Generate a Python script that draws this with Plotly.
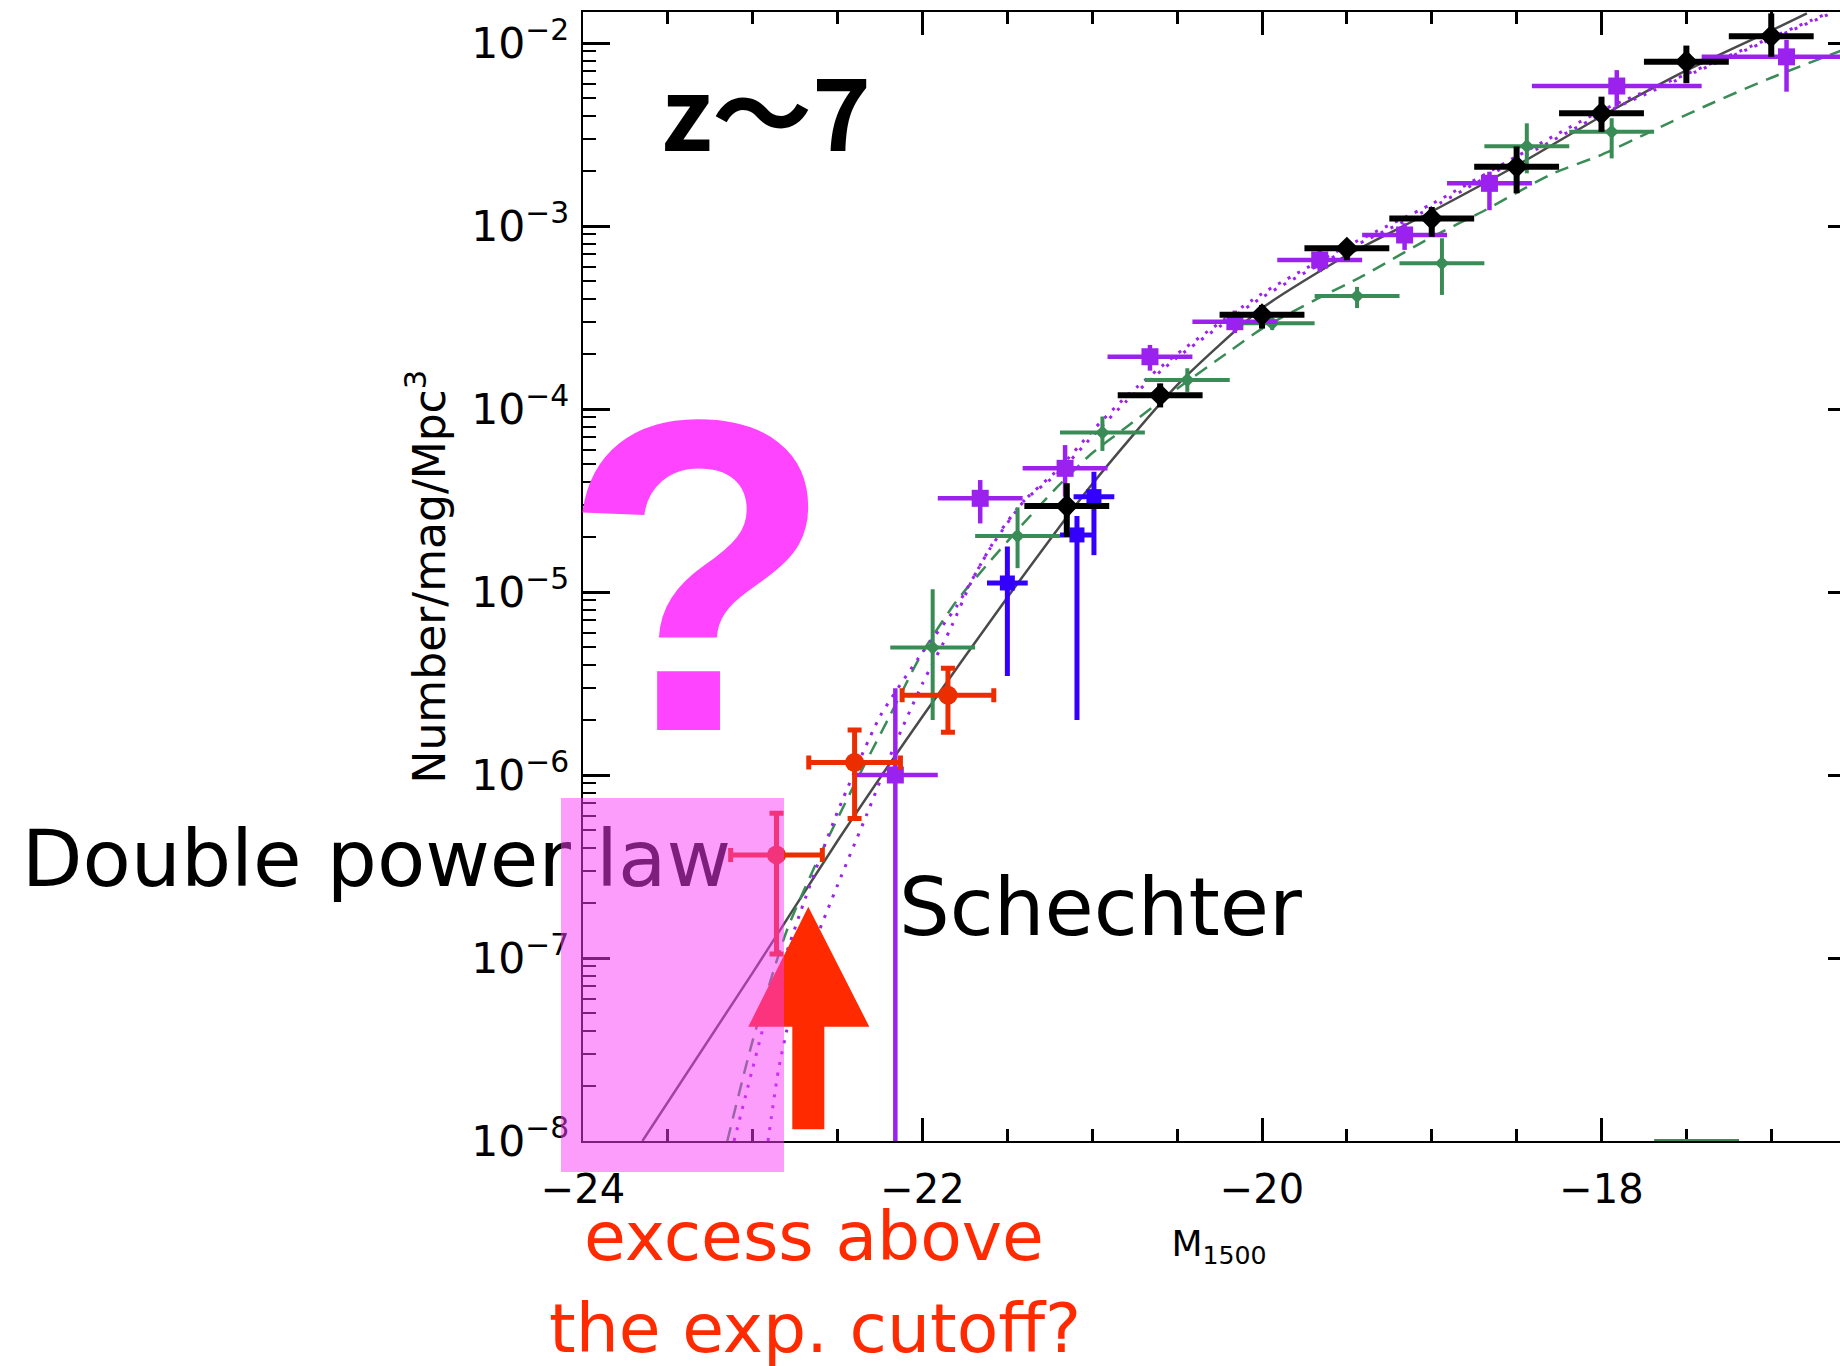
import plotly.graph_objects as go

# ---------------- data ----------------
# black diamonds
blk_M = [-21.15, -20.60, -20.00, -19.50, -19.00, -18.50, -18.00, -17.50, -17.00]
blk_phi = [2.95e-5, 1.19e-4, 3.27e-4, 7.55e-4, 1.10e-3, 2.11e-3, 4.13e-3, 7.91e-3, 1.09e-2]
blk_hi = [3.93e-5, 1.38e-4, 3.70e-4, 8.40e-4, 1.27e-3, 2.72e-3, 5.09e-3, 9.68e-3, 1.45e-2]
blk_lo = [2.00e-5, 1.02e-4, 2.75e-4, 6.50e-4, 8.73e-4, 1.51e-3, 3.27e-3, 6.03e-3, 8.41e-3]
blk_dM = [0.25] * 9

# purple squares
pur_M = [-22.16, -21.66, -21.16, -20.66, -20.16, -19.66, -19.16, -18.66, -17.91, -16.91]
pur_phi = [1.0e-6, 3.25e-5, 4.74e-5, 1.93e-4, 3.0e-4, 6.52e-4, 8.93e-4, 1.71e-3, 5.82e-3, 8.4e-3]
pur_hi = [2.98e-6, 4.09e-5, 6.35e-5, 2.24e-4, 3.45e-4, 7.4e-4, 1.035e-3, 1.98e-3, 7.11e-3, 1.04e-2]
pur_lo = [1e-10, 2.37e-5, 3.32e-5, 1.62e-4, 2.6e-4, 5.6e-4, 7.4e-4, 1.22e-3, 4.49e-3, 5.42e-3]
pur_dM = [0.25, 0.25, 0.25, 0.25, 0.25, 0.25, 0.25, 0.25, 0.5, 0.5]

# green small diamonds
grn_M = [-21.94, -21.44, -20.94, -20.44, -19.94, -19.44, -18.94, -18.44, -17.94]
grn_phi = [4.97e-6, 2.02e-5, 7.43e-5, 1.44e-4, 2.94e-4, 4.14e-4, 6.25e-4, 2.73e-3, 3.27e-3]
grn_hi = [1.035e-5, 2.9e-5, 9.1e-5, 1.67e-4, 3.1e-4, 4.65e-4, 8.57e-4, 3.64e-3, 3.88e-3]
grn_lo = [2.0e-6, 1.35e-5, 5.9e-5, 1.24e-4, 2.7e-4, 3.56e-4, 4.2e-4, 1.94e-3, 2.34e-3]
grn_dM = [0.25] * 9
# green bin sitting on the lower axis
grn_floor_M = [-17.44]
grn_floor_phi = [1.0e-8]
grn_floor_dM = [0.25]

# blue squares
blu_M = [-21.50, -21.09, -20.99]
blu_phi = [1.12e-5, 2.05e-5, 3.32e-5]
blu_hi = [1.77e-5, 2.6e-5, 4.54e-5]
blu_lo = [3.48e-6, 2.0e-6, 1.59e-5]
blu_dM = [0.12, 0.10, 0.12]

# red circles
red_M = [-22.86, -22.40, -21.85]
red_phi = [3.66e-7, 1.17e-6, 2.73e-6]
red_hi = [6.18e-7, 1.76e-6, 3.83e-6]
red_lo = [1.05e-7, 5.79e-7, 1.71e-6]
red_dM = [0.27, 0.27, 0.27]

# solid dark curve (double power law)
dpl_M = [-23.65, -23.0, -22.5, -22.0, -21.5, -21.0, -20.5, -20.0, -19.5, -19.0,
         -18.5, -18.0, -17.5, -17.0, -16.79]
dpl_phi = [1.0e-8, 8.32e-8, 4.37e-7, 2.09e-6, 9.33e-6, 3.89e-5, 1.35e-4, 3.55e-4, 6.92e-4,
           1.20e-3, 2.14e-3, 3.98e-3, 7.08e-3, 1.17e-2, 1.45e-2]

# green dashed curve (Schechter)
gsc_M = [-23.15, -23.0, -22.8, -22.6, -22.4, -22.2, -22.0, -21.8, -21.6, -21.4, -21.2, -21.0,
         -20.8, -20.5, -20.2, -20.0, -19.7, -19.4, -19.0, -18.7, -18.3, -18.0, -17.7, -17.4,
         -17.0, -16.52]
gsc_phi = [1.0e-8, 3.55e-8, 1.41e-7, 3.72e-7, 8.91e-7, 2.04e-6, 4.68e-6, 8.91e-6, 1.48e-5,
           2.40e-5, 3.80e-5, 5.75e-5, 7.94e-5, 1.29e-4, 2.04e-4, 2.75e-4, 3.89e-4, 5.37e-4,
           8.71e-4, 1.20e-3, 1.91e-3, 2.45e-3, 3.31e-3, 4.47e-3, 6.46e-3, 9.6e-3]

# purple dotted curves (Schechter)
pda_M = [-23.11, -23.0, -22.9, -22.7, -22.5, -22.25, -22.0, -21.8, -21.6, -21.4, -21.2, -21.0,
         -20.8, -20.5, -20.0, -19.5, -19.0, -18.5, -18.0, -17.5, -17.0, -16.67]
pda_phi = [1.0e-8, 2.51e-8, 5.62e-8, 2.0e-7, 6.31e-7, 2.09e-6, 4.68e-6, 8.32e-6, 1.74e-5,
           3.16e-5, 4.68e-5, 7.59e-5, 1.17e-4, 2.0e-4, 4.27e-4, 7.76e-4, 1.32e-3, 2.40e-3,
           4.27e-3, 6.76e-3, 1.07e-2, 1.45e-2]
pdb_M = [-22.91, -22.85, -22.78, -22.65, -22.5, -22.33, -22.17, -22.0, -21.84, -21.7, -21.55,
         -21.4, -21.2, -21.0, -20.8, -20.5, -20.0, -19.5, -19.0, -18.5, -18.0, -17.5, -17.0,
         -16.65]
pdb_phi = [1.0e-8, 2.40e-8, 4.79e-8, 1.12e-7, 2.51e-7, 6.03e-7, 1.41e-6, 3.16e-6, 6.17e-6,
           1.20e-5, 2.09e-5, 3.16e-5, 4.47e-5, 7.08e-5, 1.10e-4, 1.91e-4, 4.07e-4, 7.41e-4,
           1.26e-3, 2.29e-3, 4.07e-3, 6.61e-3, 1.05e-2, 1.45e-2]

x_tick_step = 2
y_title = "Number/mag/Mpc<sup>3</sup>"
x_title = "M<sub>1500</sub>"

# ---------------- geometry ----------------
W, H = 1855, 1366          # right frame edge sits just past the 1840-px window, as in the reference
PX_LEFT, PX_TOP, PX_BOTTOM = 583, 12, 1141   # plot frame in page pixels (right edge = W)
PX_PER_MAG = 169.75
PX_PER_DEC = 183.0
X_MIN = -24.0
Y_MIN_LOG = -8.0
x_range = [X_MIN, X_MIN + (W - PX_LEFT) / PX_PER_MAG]
y_range = [Y_MIN_LOG, Y_MIN_LOG + (PX_BOTTOM - PX_TOP) / PX_PER_DEC]
x_domain = [PX_LEFT / W, 1.0]
y_domain = [(H - PX_BOTTOM) / H, (H - PX_TOP) / H]


def paper(px, py):
    # margins are zero, so paper == whole page
    return px / W, (H - py) / H


def to_data(px, py):
    return X_MIN + (px - PX_LEFT) / PX_PER_MAG, 10 ** (Y_MIN_LOG + (PX_BOTTOM - py) / PX_PER_DEC)


def errs(phi, hi, lo):
    return [h - p for h, p in zip(hi, phi)], [p - l for p, l in zip(phi, lo)]


C_BLACK = "#000000"
C_PUR = "#9b22ee"
C_GRN = "#3a8c56"
C_BLU = "#3300ff"
C_RED = "#eb2d00"
C_ARROW = "#ff2a00"

fig = go.Figure()

# curves
fig.add_trace(go.Scatter(x=dpl_M, y=dpl_phi, mode="lines",
                         line=dict(color="#4a4a4a", width=2.5, shape="spline", smoothing=0.6)))
fig.add_trace(go.Scatter(x=gsc_M, y=gsc_phi, mode="lines",
                         line=dict(color=C_GRN, width=2.5, dash="14px,9px", shape="spline", smoothing=0.6)))
fig.add_trace(go.Scatter(x=pda_M, y=pda_phi, mode="lines",
                         line=dict(color=C_PUR, width=3, dash="3px,8px", shape="spline", smoothing=0.6)))
fig.add_trace(go.Scatter(x=pdb_M, y=pdb_phi, mode="lines",
                         line=dict(color=C_PUR, width=3, dash="3px,8px", shape="spline", smoothing=0.6)))


def points(M, phi, hi, lo, dM, color, symbol, size, thick, cap=0):
    up, dn = errs(phi, hi, lo)
    return go.Scatter(
        x=M, y=phi, mode="markers",
        marker=dict(symbol=symbol, size=size, color=color, line=dict(width=0)),
        error_x=dict(type="data", array=dM, symmetric=True, color=color, thickness=thick, width=cap),
        error_y=dict(type="data", array=up, arrayminus=dn, symmetric=False, color=color,
                     thickness=thick, width=cap),
    )


fig.add_trace(points(grn_M, grn_phi, grn_hi, grn_lo, grn_dM, C_GRN, "diamond", 11, 4))
fig.add_trace(go.Scatter(x=grn_floor_M, y=grn_floor_phi, mode="markers",
                         marker=dict(size=1, color=C_GRN, opacity=0),
                         error_x=dict(type="data", array=grn_floor_dM, color=C_GRN, thickness=4, width=0),
                         cliponaxis=False))
fig.add_trace(points(pur_M, pur_phi, pur_hi, pur_lo, pur_dM, C_PUR, "square", 17, 4.5))
fig.add_trace(points(blu_M, blu_phi, blu_hi, blu_lo, blu_dM, C_BLU, "square", 15, 5))
fig.add_trace(points(blk_M, blk_phi, blk_hi, blk_lo, blk_dM, C_BLACK, "diamond", 18, 6))
fig.add_trace(points(red_M, red_phi, red_hi, red_lo, red_dM, C_RED, "circle", 19, 5, cap=7))

# "Double power law" sits under the translucent pink box, so it is drawn as a text trace,
# anchored at its right end (inside the axis range) and spilling left out of the frame
lx, ly = to_data(731, 886 - 0.25 * 79)
fig.add_trace(go.Scatter(x=[lx], y=[ly], mode="text", text=["Double power law"],
                         textposition="middle left",
                         textfont=dict(family="DejaVu Sans", size=79, color="black"),
                         cliponaxis=False))

# ---------------- shapes ----------------
arrow_px = [(808.3, 906.7), (869.3, 1026.7), (824.3, 1026.7), (824.3, 1129.3),
            (792.3, 1129.3), (792.3, 1026.7), (748.3, 1026.7)]
pp = [paper(x, y) for x, y in arrow_px]
path = "M " + " L ".join(f"{x:.5f},{y:.5f}" for x, y in pp) + " Z"
fig.add_shape(type="path", path=path, xref="paper", yref="paper",
              fillcolor=C_ARROW, line=dict(width=0), layer="above")
rx0, ry0 = paper(561, 1172)
rx1, ry1 = paper(784, 798)
fig.add_shape(type="rect", xref="paper", yref="paper", x0=rx0, y0=ry0, x1=rx1, y1=ry1,
              fillcolor="rgba(250,60,250,0.5)", line=dict(width=0), layer="above")

# ---------------- annotations ----------------


def note(text, cx, cy, family, size, color, weight="normal"):
    x, y = paper(cx, cy)
    fig.add_annotation(text=text, x=x, y=y, xref="paper", yref="paper",
                       xanchor="center", yanchor="middle", showarrow=False,
                       font=dict(family=family, size=size, color=color, weight=weight))


note("z～7", 766, 151 - 0.436 * 100, "Noto Sans CJK JP", 100, "black", "bold")
note("?", 698, 730 - 0.3465 * 445, "Liberation Sans", 445, "#ff44ff", "bold")
note("Schechter", 1100, 935 - 0.346 * 80, "DejaVu Sans", 80, "black")
note("excess above", 814, 1260 - 0.346 * 68, "DejaVu Sans", 68, C_ARROW)
note("the exp. cutoff?", 815, 1352 - 0.346 * 68, "DejaVu Sans", 68, C_ARROW)

# ---------------- axes ----------------
fig.update_xaxes(
    domain=x_domain, range=x_range, showgrid=False, zeroline=False,
    showline=True, linecolor="black", linewidth=2, mirror="ticks",
    ticks="inside", ticklen=23, tickwidth=2.5, tickcolor="black",
    tick0=X_MIN, dtick=x_tick_step,
    minor=dict(ticks="inside", dtick=0.5, ticklen=12, tickwidth=2.5, tickcolor="black", showgrid=False),
    tickfont=dict(family="DejaVu Sans", size=40, color="black"), ticklabelstandoff=12,
    title=dict(text=x_title, font=dict(family="DejaVu Sans", size=36, color="black"), standoff=20),
    layer="below traces",
)
fig.update_yaxes(
    domain=y_domain, type="log", range=y_range, showgrid=False, zeroline=False,
    showline=True, linecolor="black", linewidth=2, mirror="ticks",
    ticks="inside", ticklen=27, tickwidth=3, tickcolor="black",
    dtick=1, exponentformat="power",
    minor=dict(ticks="inside", dtick="D1", ticklen=13, tickwidth=2, tickcolor="black", showgrid=False),
    tickfont=dict(family="DejaVu Sans", size=34, color="black"), ticklabelstandoff=5,
    title=dict(text=y_title, font=dict(family="DejaVu Sans", size=44, color="black"), standoff=12),
    layer="below traces",
)

fig.update_layout(
    width=W, height=H,
    margin=dict(l=0, r=0, t=0, b=0, autoexpand=False),
    paper_bgcolor="white", plot_bgcolor="white",
    showlegend=False,
)

fig.write_html("out.html", config={"displayModeBar": False},
               post_script="document.body.style.margin='0px';document.body.style.overflow='hidden';"
                           "document.documentElement.style.overflow='hidden';")
